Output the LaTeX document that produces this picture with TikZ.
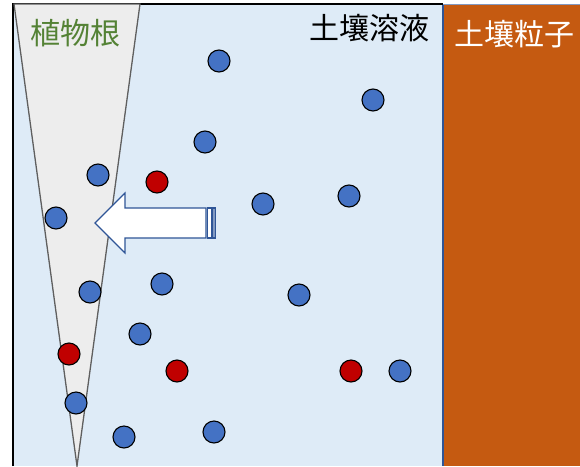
\documentclass[tikz,border=0pt]{standalone}
\usepackage{fontspec}
\newfontfamily\jpfont{Noto Sans CJK JP}
\definecolor{solution}{HTML}{DEEBF7}
\definecolor{particle}{HTML}{C55A11}
\definecolor{rootgray}{HTML}{EDEDED}
\definecolor{rootedge}{HTML}{5F5F5F}
\definecolor{rootgreen}{HTML}{548235}
\definecolor{ionblue}{HTML}{4472C4}
\definecolor{ionred}{HTML}{C00000}
\definecolor{arrowedge}{HTML}{2F5597}
\tikzset{
  ion/.style={circle, draw=black, line width=1.1pt, minimum size=22pt, inner sep=0pt},
  blueion/.style={ion, fill=ionblue},
  redion/.style={ion, fill=ionred},
  label/.style={font=\jpfont\fontsize{30}{30}\selectfont, inner sep=0pt},
}
\begin{document}
\begin{tikzpicture}[x=1pt,y=-1pt]
\useasboundingbox (0,0) rectangle (580,466);
% soil solution and soil particle
\fill[solution] (14,4) rectangle (443,466);
\fill[particle] (443,4) rectangle (580,466);
\draw[arrowedge, line width=1.6pt] (443,4) -- (443,466);
\draw[arrowedge!60, line width=0.8pt] (443,4.5) -- (580,4.5);
\draw[black, line width=2pt] (13,466) -- (13,4) -- (443,4);
% root
\draw[rootedge, fill=rootgray, line width=1.3pt] (14,4) -- (140,4) -- (77,466) -- cycle;
\node[label, text=rootgreen] (rootlbl) at (75,33) {植物根};
\node[label, text=black] (sollbl) at (369,28) {土壤溶液};
\node[label, text=white] (partlbl) at (514,34) {土壤粒子};
% uptake arrow
\draw[arrowedge, fill=white, line width=1.2pt]
  (95,223) -- (125,193) -- (125,208) -- (206,208) -- (206,238) -- (125,238) -- (125,253) -- cycle;
\draw[arrowedge, fill=white, line width=1.2pt] (207.8,208) rectangle (211.2,238);
\draw[arrowedge, fill=arrowedge!60, line width=1.2pt] (212.8,208) rectangle (215.2,238);
% ions
\foreach \n/\x/\y in {b1/219/61, b2/373/100, b3/205/142, b4/98/175, b5/263/204,
  b6/349/196, b7/56/218, b8/90/292, b9/162/284, b10/299/295, b11/140/334,
  b12/400/371, b13/76/403, b14/124/437, b15/214/432}
  \node[blueion] (\n) at (\x,\y) {};
\foreach \n/\x/\y in {r1/157/182, r2/69/354, r3/177/371, r4/351/371}
  \node[redion] (\n) at (\x,\y) {};
\end{tikzpicture}
\end{document}
